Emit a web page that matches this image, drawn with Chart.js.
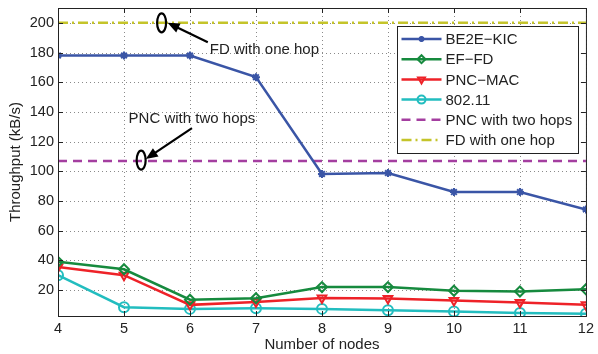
<!DOCTYPE html>
<html>
<head>
<meta charset="utf-8">
<script src="https://cdn.jsdelivr.net/npm/chart.js@4"></script>
<style>
  html, body { margin: 0; padding: 0; background: #fff; }
  #wrap { width: 598px; height: 354px; }
</style>
</head>
<body>
<div id="wrap"><canvas id="mychart"></canvas></div>
<script>
// data
const nodes = [4, 5, 6, 7, 8, 9, 10, 11, 12];
const be2eKic = [178, 178, 178, 163.4, 98.2, 98.8, 86, 86, 74.3];
const efFd = [39, 34, 13.5, 14.5, 22, 22, 19.5, 19, 20.5];
const pncMac = [35.5, 30, 10, 12, 14.7, 14.3, 13, 11.6, 10];
const wifi80211 = [30, 8.4, 7.3, 7.7, 7.3, 6.4, 5.5, 4.5, 4.1];
const pncTwoHops = [107, 107, 107, 107, 107, 107, 107, 107, 107];
const fdOneHop = [200, 200, 200, 200, 200, 200, 200, 200, 200];
const yTicks = [20, 40, 60, 80, 100, 120, 140, 160, 180, 200];
const xTicks = [4, 5, 6, 7, 8, 9, 10, 11, 12];

const font = "'Liberation Sans', Arial, sans-serif";
const toXY = (arr) => nodes.map((n, i) => ({ x: n, y: arr[i] }));

// annotation text + arrows, placed in data units
const notes = [
  { text: "FD with one hop", tx: 6.3, ty: 181.6, from: [6.27, 187], to: [5.66, 200], ell: [5.57, 200] },
  { text: "PNC with two hops", tx: 5.07, ty: 135.2, from: [6.03, 129.1], to: [5.33, 108.2], ell: [5.26, 107.5] },
];

const gridPlugin = {
  id: "dotgrid",
  beforeDatasetsDraw(chart) {
    const { ctx, chartArea: a, scales } = chart;
    ctx.save();
    ctx.strokeStyle = "#8a8a8a";
    ctx.lineWidth = 1;
    ctx.setLineDash([1, 3]);
    ctx.beginPath();
    yTicks.forEach((v) => {
      const y = Math.round(scales.y.getPixelForValue(v)) + 0.5;
      ctx.moveTo(a.left, y); ctx.lineTo(a.right, y);
    });
    xTicks.forEach((v) => {
      const x = Math.round(scales.x.getPixelForValue(v)) + 0.5;
      ctx.moveTo(x, a.top); ctx.lineTo(x, a.bottom);
    });
    ctx.stroke();
    ctx.restore();
  },
};

const boxPlugin = {
  id: "box",
  afterDatasetsDraw(chart) {
    const { ctx, chartArea: a, scales } = chart;
    ctx.save();
    // annotations
    ctx.strokeStyle = "#000";
    ctx.fillStyle = "#000";
    ctx.lineWidth = 2.2;
    notes.forEach((n) => {
      const x1 = scales.x.getPixelForValue(n.from[0]), y1 = scales.y.getPixelForValue(n.from[1]);
      const x2 = scales.x.getPixelForValue(n.to[0]), y2 = scales.y.getPixelForValue(n.to[1]);
      const ang = Math.atan2(y2 - y1, x2 - x1);
      ctx.beginPath();
      ctx.moveTo(x1, y1);
      ctx.lineTo(x2 - 8 * Math.cos(ang), y2 - 8 * Math.sin(ang));
      ctx.stroke();
      ctx.beginPath();
      ctx.moveTo(x2, y2);
      ctx.lineTo(x2 - 12 * Math.cos(ang) + 5 * Math.sin(ang), y2 - 12 * Math.sin(ang) - 5 * Math.cos(ang));
      ctx.lineTo(x2 - 12 * Math.cos(ang) - 5 * Math.sin(ang), y2 - 12 * Math.sin(ang) + 5 * Math.cos(ang));
      ctx.closePath();
      ctx.fill();
      ctx.beginPath();
      ctx.ellipse(scales.x.getPixelForValue(n.ell[0]), scales.y.getPixelForValue(n.ell[1]), 4.5, 9.5, 0, 0, Math.PI * 2);
      ctx.stroke();
      ctx.font = "15px " + font;
      ctx.fillStyle = "#222";
      ctx.textBaseline = "middle";
      ctx.textAlign = "left";
      ctx.fillText(n.text, scales.x.getPixelForValue(n.tx), scales.y.getPixelForValue(n.ty));
      ctx.fillStyle = "#000";
    });

    // axes box and inward ticks
    ctx.strokeStyle = "#222";
    ctx.lineWidth = 1;
    ctx.strokeRect(a.left + 0.5, a.top + 0.5, a.right - a.left, a.bottom - a.top);
    ctx.beginPath();
    yTicks.forEach((v) => {
      const y = Math.round(scales.y.getPixelForValue(v)) + 0.5;
      ctx.moveTo(a.left, y); ctx.lineTo(a.left + 5, y);
      ctx.moveTo(a.right, y); ctx.lineTo(a.right - 5, y);
    });
    xTicks.forEach((v) => {
      const x = Math.round(scales.x.getPixelForValue(v)) + 0.5;
      ctx.moveTo(x, a.bottom); ctx.lineTo(x, a.bottom - 5);
      ctx.moveTo(x, a.top); ctx.lineTo(x, a.top + 5);
    });
    ctx.stroke();

    // legend box
    const lw = 181, lh = 127;
    const lx = Math.round(a.right - 189) + 0.5, ly = Math.round(a.top + 18) + 0.5;
    ctx.fillStyle = "#fff";
    ctx.fillRect(lx, ly, lw, lh);
    ctx.strokeStyle = "#222";
    ctx.strokeRect(lx, ly, lw, lh);
    chart.data.datasets.forEach((ds, i) => {
      const y = ly + 12.5 + i * 20.2;
      ctx.save();
      ctx.strokeStyle = ds.borderColor;
      ctx.lineWidth = ds.borderWidth;
      ctx.setLineDash(ds.borderDash || []);
      ctx.beginPath();
      ctx.moveTo(lx + 4, y); ctx.lineTo(lx + 44, y);
      ctx.stroke();
      ctx.setLineDash([]);
      if (ds.pointRadius > 0) {
        ctx.lineWidth = 2;
        ctx.fillStyle = "rgba(0,0,0,0)";
        Chart.helpers.drawPoint(ctx, {
          pointStyle: ds.pointStyle, radius: ds.pointRadius - 1, rotation: ds.pointRotation || 0, borderWidth: 2,
        }, lx + 24, y);
      }
      ctx.restore();
      ctx.fillStyle = "#222";
      ctx.font = "15px " + font;
      ctx.textBaseline = "middle";
      ctx.textAlign = "left";
      ctx.fillText(ds.label, lx + 48, y + 1);
    });
    ctx.restore();
  },
};

const mk = (label, arr, color, style, extra) => Object.assign({
  label, data: toXY(arr), borderColor: color, backgroundColor: "rgba(0,0,0,0)",
  borderWidth: 2.5, pointStyle: style, pointRadius: 5, pointBorderWidth: 2,
  pointBorderColor: color, pointBackgroundColor: "rgba(0,0,0,0)", tension: 0,
}, extra || {});

new Chart(document.getElementById("mychart").getContext("2d"), {
  type: "line",
  data: {
    datasets: [
      mk("BE2E\u2212KIC", be2eKic, "#3a55a6", "star", { pointRadius: 4 }),
      mk("EF\u2212FD", efFd, "#168a3e", "rectRot"),
      mk("PNC\u2212MAC", pncMac, "#ee2228", "triangle", { pointRotation: 180 }),
      mk("802.11", wifi80211, "#22bdbf", "circle"),
      mk("PNC with two hops", pncTwoHops, "#a43ea0", false, { pointRadius: 0, borderDash: [9, 6] }),
      mk("FD with one hop", fdOneHop, "#c4c42a", false, { pointRadius: 0, borderDash: [10, 4, 2, 4] }),
    ],
  },
  options: {
    responsive: true,
    maintainAspectRatio: false,
    animation: false,
    layout: { padding: { top: 8, right: 11, left: 0, bottom: 0 } },
    plugins: {
      legend: { display: false },
      tooltip: { enabled: false },
    },
    scales: {
      x: {
        type: "linear",
        min: 4,
        max: 12,
        afterBuildTicks: (s) => { s.ticks = xTicks.map((v) => ({ value: v })); },
        afterFit: (s) => { s.height = 38; },
        grid: { display: false, drawTicks: false },
        border: { display: false },
        ticks: { color: "#222", font: { family: font, size: 14.5 }, padding: 4, maxRotation: 0 },
        title: { display: true, text: "Number of nodes", color: "#222", font: { family: font, size: 15 }, padding: { top: 0, bottom: 0 } },
      },
      y: {
        min: 2.5,
        max: 210,
        afterBuildTicks: (s) => { s.ticks = yTicks.map((v) => ({ value: v })); },
        afterFit: (s) => { s.width = 58; s.paddingTop = 0; s.paddingBottom = 0; },
        grid: { display: false, drawTicks: false },
        border: { display: false },
        ticks: { color: "#222", font: { family: font, size: 14.5 }, padding: 4 },
        title: { display: true, text: "Throughput (kB/s)", color: "#222", font: { family: font, size: 15 }, padding: { top: 7, bottom: 0 } },
      },
    },
  },
  plugins: [gridPlugin, boxPlugin],
});
</script>
</body>
</html>
